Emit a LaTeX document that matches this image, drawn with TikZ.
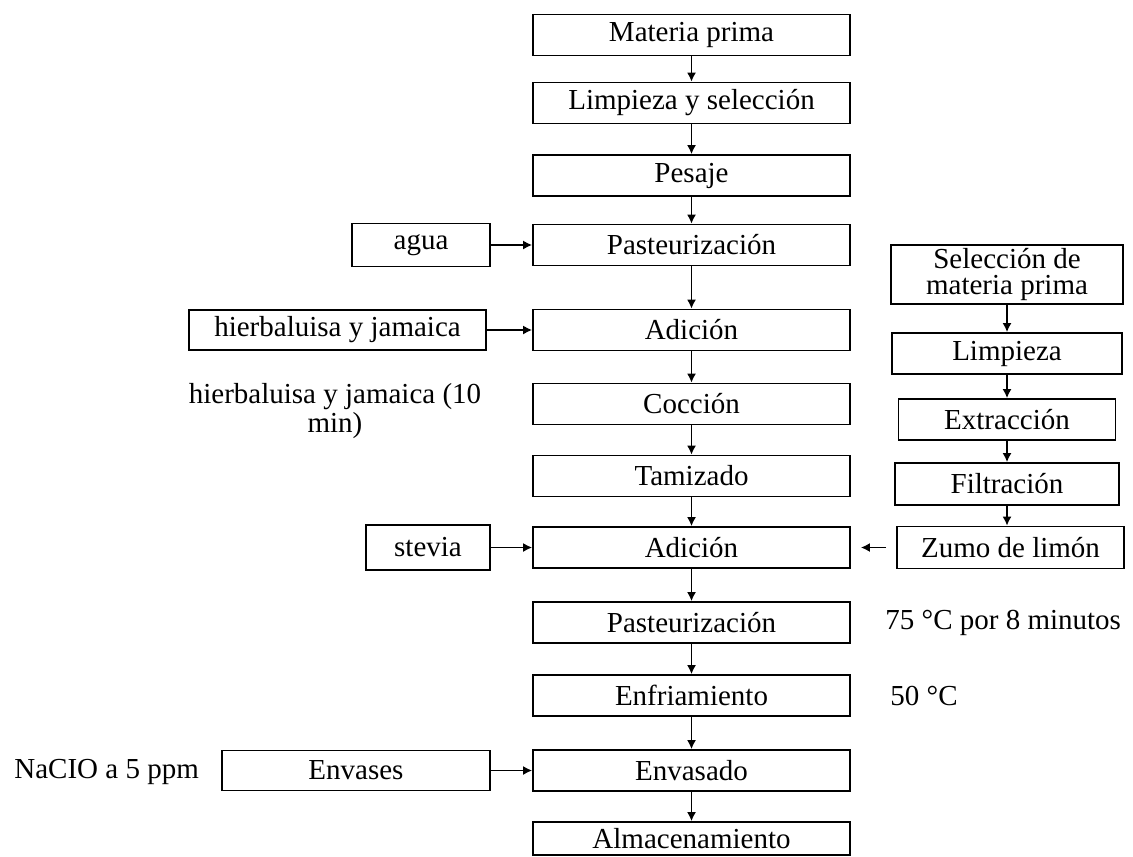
\documentclass[tikz,border=0pt]{standalone}
\usepackage{fontspec}
\setmainfont{Liberation Serif}
\usetikzlibrary{shapes,arrows.meta,positioning}

\begin{document}
\begin{tikzpicture}[x=0.5pt, y=-0.5pt, >={Latex[length=4.5pt,width=4.5pt]},
    font=\fontsize{14.5}{13.2}\selectfont,
    box/.style={draw, line width=0.9pt, inner sep=0pt, minimum height=20.5pt},
    mainbox/.style={box, minimum width=158.5pt},
    note/.style={inner sep=0pt},
    flow/.style={->, line width=0.75pt}]
            \useasboundingbox (0,0) rectangle (1133,856);

            % Main line
            \node[mainbox] (mp) at (691.5,35) {Materia prima};
            \node[mainbox] (limp) at (691.5,103) {Limpieza y selección};
            \node[mainbox] (pes) at (691.5,175.5) {Pesaje};
            \node[mainbox] (past1) at (691.5,245) {Pasteurización};
            \node[mainbox] (adi1) at (691.5,330) {Adición};
            \node[mainbox] (cocc) at (691.5,404) {Cocción};
            \node[mainbox] (tam) at (691.5,476) {Tamizado};
            \node[mainbox] (adi2) at (691.5,547.5) {Adición};
            \node[mainbox] (past2) at (691.5,622.5) {Pasteurización};
            \node[mainbox] (enf) at (691.5,695.5) {Enfriamiento};
            \node[mainbox] (envd) at (691.5,770.5) {Envasado};
            \node[mainbox, minimum height=16.5pt] (alm) at (691.5,838.5) {Almacenamiento};

            % Inputs
            \node[box, minimum width=69pt, minimum height=21.5pt] (agua) at (421,245) {agua};
            \node[box, minimum width=148.5pt, minimum height=20pt] (hierb) at (337.5,330) {hierbaluisa y jamaica};
            \node[box, minimum width=62pt, minimum height=22.5pt] (stevia) at (428,547.5) {stevia};
            \node[box, minimum width=134pt, minimum height=20pt] (envs) at (356,770.5) {Envases};

            % Lemon juice line
            \node[box, minimum width=116pt, minimum height=29.5pt, align=center] (sel) at (1007,274.5) {Selección de\\materia prima};
            \node[box, minimum width=115pt] (limp2) at (1007,353.5) {Limpieza};
            \node[box, minimum width=108.5pt] (extr) at (1007,419.5) {Extracción};
            \node[box, minimum width=112pt, minimum height=21pt] (filt) at (1007,484) {Filtración};
            \node[box, minimum width=113.5pt, minimum height=21pt] (zumo) at (1010.5,547.5) {Zumo de limón};

            % Notes
            \node[note, align=center, font=\fontsize{14.5}{9.5}\selectfont] (nota1) at (335,411) {hierbaluisa y jamaica (10\\min)};
            \node[note, anchor=west] (nota2) at (885,622.5) {75 °C por 8 minutos};
            \node[note, anchor=west] (nota3) at (890,695.5) {50 °C};
            \node[note, anchor=west] (nota4) at (14,772) {NaCIO a 5 ppm};

            % Arrows
            \draw[flow] (mp) -- (limp);
            \draw[flow] (limp) -- (pes);
            \draw[flow] (pes) -- (past1);
            \draw[flow] (past1) -- (adi1);
            \draw[flow] (adi1) -- (cocc);
            \draw[flow] (cocc) -- (tam);
            \draw[flow] (tam) -- (adi2);
            \draw[flow] (adi2) -- (past2);
            \draw[flow] (past2) -- (enf);
            \draw[flow] (enf) -- (envd);
            \draw[flow] (envd) -- (alm);
            \draw[flow] (agua) -- (past1);
            \draw[flow] (hierb) -- (adi1);
            \draw[flow] (stevia) -- (adi2);
            \draw[flow] (envs) -- (envd);
            \draw[flow] (sel) -- (limp2);
            \draw[flow] (limp2) -- (extr);
            \draw[flow] (extr) -- (filt);
            \draw[flow] (filt) -- (filt |- zumo.north);
            \draw[flow, shorten <=5pt, shorten >=5pt] (zumo) -- (adi2);
        \end{tikzpicture}
\end{document}
